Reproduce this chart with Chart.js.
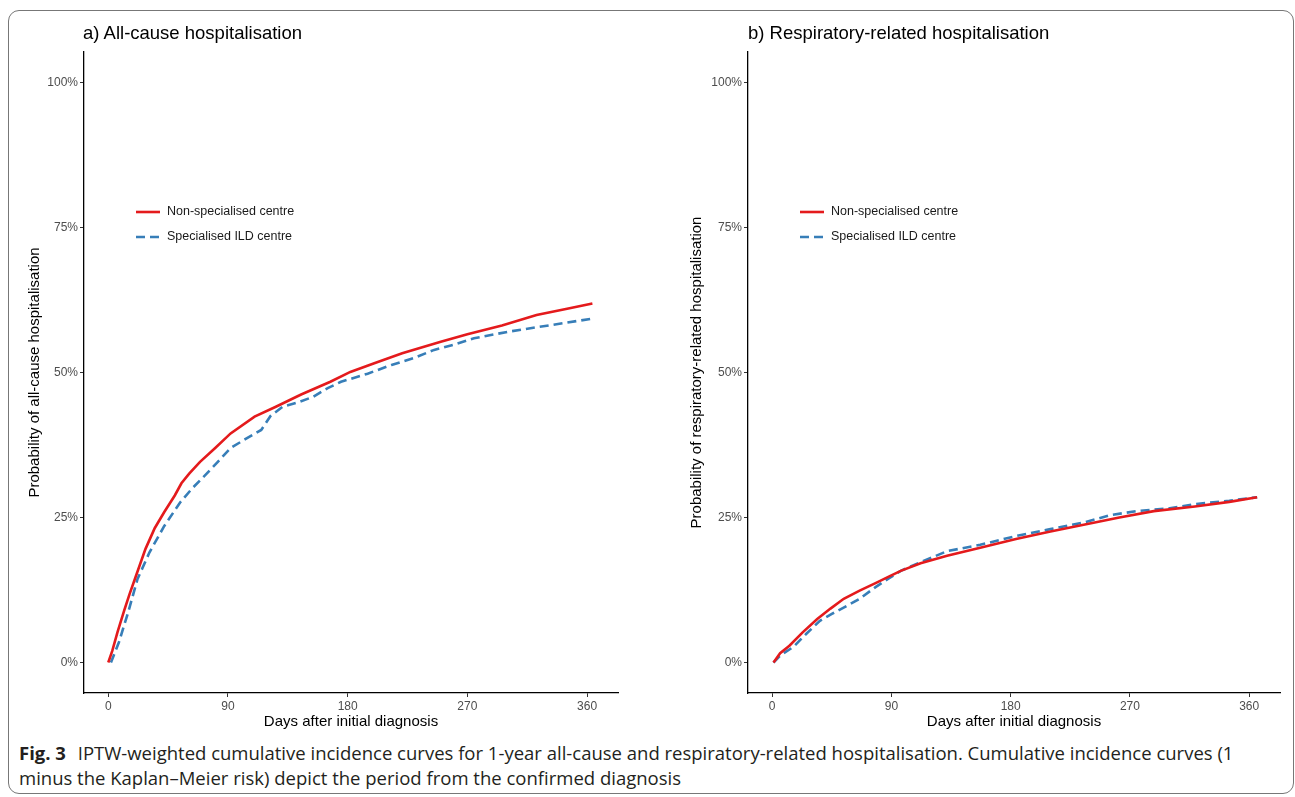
<!DOCTYPE html>
<html>
<head>
<meta charset="utf-8">
<script src="https://cdn.jsdelivr.net/npm/chart.js@4.4.1/dist/chart.umd.min.js"></script>
<style>
  html, body { margin: 0; padding: 0; background: #fff; }
  #wrap { position: relative; width: 1295px; height: 797px; overflow: hidden; }
  #frame { position: absolute; left: 8px; top: 10px; width: 1286px; height: 784px; border: 1.5px solid #777; border-radius: 11px; box-sizing: border-box; }
  canvas { position: absolute; top: 0; }
  .ptitle { position: absolute; top: 23px; font-family: "Liberation Sans", Arial, sans-serif; font-size: 18.5px; line-height: 20px; color: #000; white-space: nowrap; }
  #caption { position: absolute; left: 19px; top: 740px; font-family: "Open Sans", "Noto Sans", sans-serif; font-size: 18.5px; line-height: 25px; color: #231f20; white-space: nowrap; }
  #caption b { font-weight: 700; margin-right: 7px; }
</style>
</head>
<body>
<div id="wrap">
  <div id="frame"></div>
  <canvas id="c1" width="645" height="740" style="left:0px"></canvas>
  <canvas id="c2" width="650" height="740" style="left:645px"></canvas>
  <div class="ptitle" style="left:83px">a) All-cause hospitalisation</div>
  <div class="ptitle" style="left:748px">b) Respiratory-related hospitalisation</div>
  <div id="caption"><b>Fig. 3</b> IPTW-weighted cumulative incidence curves for 1-year all-cause and respiratory-related hospitalisation. Cumulative incidence curves (1<br>minus the Kaplan–Meier risk) depict the period from the confirmed diagnosis</div>
</div>
<script>
// ---- Data ----
const seriesNames = ["Non-specialised centre", "Specialised ILD centre"];
const xTicks = [0, 90, 180, 270, 360];
const yTicks = [0, 25, 50, 75, 100];

// a) All-cause hospitalisation
const allNonDays = [0, 3, 7, 12, 16, 20, 28, 35, 42, 50, 55, 61, 69, 80, 92, 110, 126, 145, 167, 182, 200, 221, 250, 270, 296, 322, 345, 364];
const allNonProb = [0, 2.0, 5.3, 9.0, 11.8, 14.4, 19.6, 23.2, 25.9, 28.8, 30.9, 32.6, 34.6, 36.9, 39.5, 42.4, 44.1, 46.2, 48.4, 50.1, 51.6, 53.3, 55.3, 56.6, 58.1, 59.9, 61.0, 61.9];
const allSpecDays = [2, 8, 15, 22, 31, 42, 54, 63, 72, 82, 92, 103, 115, 122, 131, 142, 154, 165, 175, 195, 213, 230, 245, 260, 275, 300, 322, 345, 364];
const allSpecProb = [0, 3.5, 8.7, 14.4, 19.0, 23.5, 27.6, 30.0, 32.1, 34.5, 37.0, 38.5, 40.1, 42.5, 44.1, 44.8, 45.8, 47.3, 48.4, 49.8, 51.3, 52.5, 53.9, 54.8, 55.9, 57.0, 57.8, 58.6, 59.3];

// b) Respiratory-related hospitalisation
const respNonDays = [1, 6, 13, 23, 34, 44, 54, 66, 78, 88, 97, 112, 132, 157, 184, 210, 236, 262, 288, 319, 345, 366];
const respNonProb = [0, 1.6, 2.9, 5.2, 7.5, 9.3, 11.0, 12.4, 13.7, 14.8, 15.8, 17.1, 18.4, 19.8, 21.3, 22.6, 23.8, 25.0, 26.1, 26.9, 27.7, 28.5];
const respSpecDays = [1, 6, 16, 26, 36, 46, 55, 66, 78, 88, 97, 112, 132, 157, 184, 210, 236, 255, 275, 300, 319, 345, 366];
const respSpecProb = [0, 1.2, 2.7, 5.0, 7.2, 8.5, 9.6, 11.0, 13.0, 14.5, 15.8, 17.3, 19.2, 20.3, 21.8, 23.0, 24.2, 25.4, 26.1, 26.6, 27.3, 27.9, 28.5];

// ---- Styling ----
const RED = "#E41A1C";
const BLUE = "#377EB8";
const FONT = "'Liberation Sans', Arial, sans-serif";

function pts(xs, ys) { return xs.map((x, i) => ({ x: x, y: ys[i] })); }

const legendPlugin = {
  id: "insideLegend",
  afterDatasetsDraw(chart) {
    const ctx = chart.ctx, ca = chart.chartArea;
    ctx.save();
    chart.data.datasets.forEach((ds, i) => {
      const y = ca.top + 160 + i * 25;
      const x0 = ca.left + 52;
      ctx.beginPath();
      ctx.strokeStyle = ds.borderColor;
      ctx.lineWidth = ds.borderWidth;
      ctx.setLineDash(ds.borderDash || []);
      ctx.moveTo(x0, y);
      ctx.lineTo(x0 + 24, y);
      ctx.stroke();
      ctx.setLineDash([]);
      ctx.fillStyle = "#1a1a1a";
      ctx.font = "12.5px " + FONT;
      ctx.textBaseline = "middle";
      ctx.textAlign = "left";
      ctx.fillText(ds.label, ca.left + 83, y);
    });
    ctx.restore();
  }
};

function makeChart(id, nonD, nonP, specD, specP, yTitle, yAxisWidth, yTitlePad, padRight) {
  return new Chart(document.getElementById(id), {
    type: "line",
    data: {
      datasets: [
        { label: seriesNames[0], data: pts(nonD, nonP), borderColor: RED, backgroundColor: RED, borderWidth: 2.6, pointRadius: 0, tension: 0, fill: false },
        { label: seriesNames[1], data: pts(specD, specP), borderColor: BLUE, backgroundColor: BLUE, borderWidth: 2.6, borderDash: [9, 5], pointRadius: 0, tension: 0, fill: false }
      ]
    },
    options: {
      responsive: false,
      animation: false,
      devicePixelRatio: 1,
      layout: { padding: { left: 0, right: padRight, top: 52, bottom: 0 } },
      plugins: { legend: { display: false }, tooltip: { enabled: false } },
      scales: {
        x: {
          type: "linear",
          min: -18.25, max: 383.25,
          afterBuildTicks: s => { s.ticks = xTicks.map(v => ({ value: v })); },
          afterFit: s => { s.height = 47; },
          ticks: { color: "#4d4d4d", font: { family: FONT, size: 12 }, padding: 2, maxRotation: 0 },
          grid: { drawOnChartArea: false, drawTicks: true, tickLength: 4, color: "#333", lineWidth: 1 },
          border: { display: true, color: "#000", width: 1.3 },
          title: { display: true, text: "Days after initial diagnosis", color: "#000", font: { family: FONT, size: 15 }, padding: { top: 0, bottom: 9 } }
        },
        y: {
          type: "linear",
          min: -5.25, max: 105.25,
          afterBuildTicks: s => { s.ticks = yTicks.map(v => ({ value: v })); },
          afterFit: s => { s.width = yAxisWidth; },
          ticks: { color: "#4d4d4d", font: { family: FONT, size: 12 }, padding: 2, callback: v => v + "%" },
          grid: { drawOnChartArea: false, drawTicks: true, tickLength: 4, color: "#333", lineWidth: 1 },
          border: { display: true, color: "#000", width: 1.3 },
          title: { display: true, text: yTitle, color: "#000", font: { family: FONT, size: 15 }, padding: { top: yTitlePad, bottom: 0 } }
        }
      }
    },
    plugins: [legendPlugin]
  });
}

makeChart("c1", allNonDays, allNonProb, allSpecDays, allSpecProb, "Probability of all-cause hospitalisation", 84, 26, 27);
makeChart("c2", respNonDays, respNonProb, respSpecDays, respSpecProb, "Probability of respiratory-related hospitalisation", 103, 43, 15);
</script>
</body>
</html>
